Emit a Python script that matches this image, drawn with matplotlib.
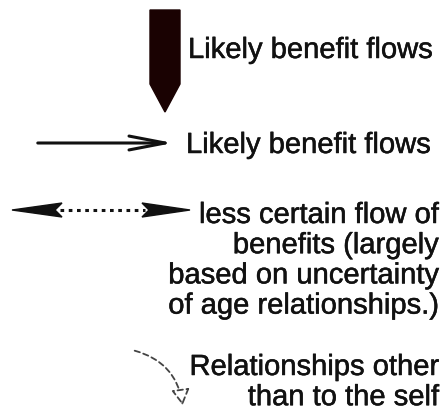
import matplotlib
matplotlib.use('Agg')
import matplotlib.pyplot as plt
import matplotlib.patheffects as pe
from matplotlib.patches import Polygon, FancyArrowPatch

plt.rcParams['font.family'] = ['Liberation Sans', 'DejaVu Sans']

labels = ['Likely benefit flows',
          'Likely benefit flows',
          'less certain flow of\nbenefits (largely\nbased on uncertainty\nof age relationships.)',
          'Relationships other\nthan to the self']

fs = 21
ink = '#111111'
thick = [pe.withStroke(linewidth=0.35, foreground=ink)]

fig = plt.figure(figsize=(4.45, 4.18), dpi=100)
ax = fig.add_axes([0, 0, 1, 1])
ax.set_xlim(0, 445)
ax.set_ylim(418, 0)
ax.axis('off')

# big block arrow pointing down
big = Polygon([(150, 10), (180, 10), (180, 84), (165, 112), (150, 84)],
              closed=True, fc='#1a0202', ec='#1a0202', lw=1)
ax.add_patch(big)
ax.text(188, 50, labels[0], fontsize=fs, color=ink, ha='left', va='center',
        path_effects=thick)

# thin open arrow
ax.annotate('', xy=(176, 143), xytext=(35, 143),
            arrowprops=dict(arrowstyle='->,head_length=2.6,head_width=0.5',
                            lw=2.2, color=ink))
ax.text(186, 145, labels[1], fontsize=fs, color=ink, ha='left', va='center',
        path_effects=thick)

# dotted double-headed arrow
ax.plot([60, 145], [210, 210], color=ink, lw=2.2, ls=(0, (1.2, 1.5)))
ax.add_patch(Polygon([(12, 210), (62, 203), (55, 210), (62, 217)],
                     closed=True, fc=ink, ec=ink))
ax.add_patch(Polygon([(190, 210), (142, 203), (149, 210), (142, 217)],
                     closed=True, fc=ink, ec=ink))
ax.text(439, 201, labels[2], fontsize=fs, color=ink, ha='right', va='top',
        multialignment='right', linespacing=1.1, path_effects=thick)

# curved dashed arrow
arr = FancyArrowPatch((132, 350), (183, 408),
                      connectionstyle='arc3,rad=-0.35',
                      arrowstyle='-|>,head_length=0.7,head_width=0.4',
                      ls=(0, (3, 2)), lw=1.3, color='#444444', fc='white',
                      mutation_scale=14)
ax.add_patch(arr)
ax.text(439, 353, labels[3], fontsize=fs, color=ink, ha='right', va='top',
        multialignment='right', linespacing=1.1, path_effects=thick)

fig.savefig('out.png', dpi=100)
